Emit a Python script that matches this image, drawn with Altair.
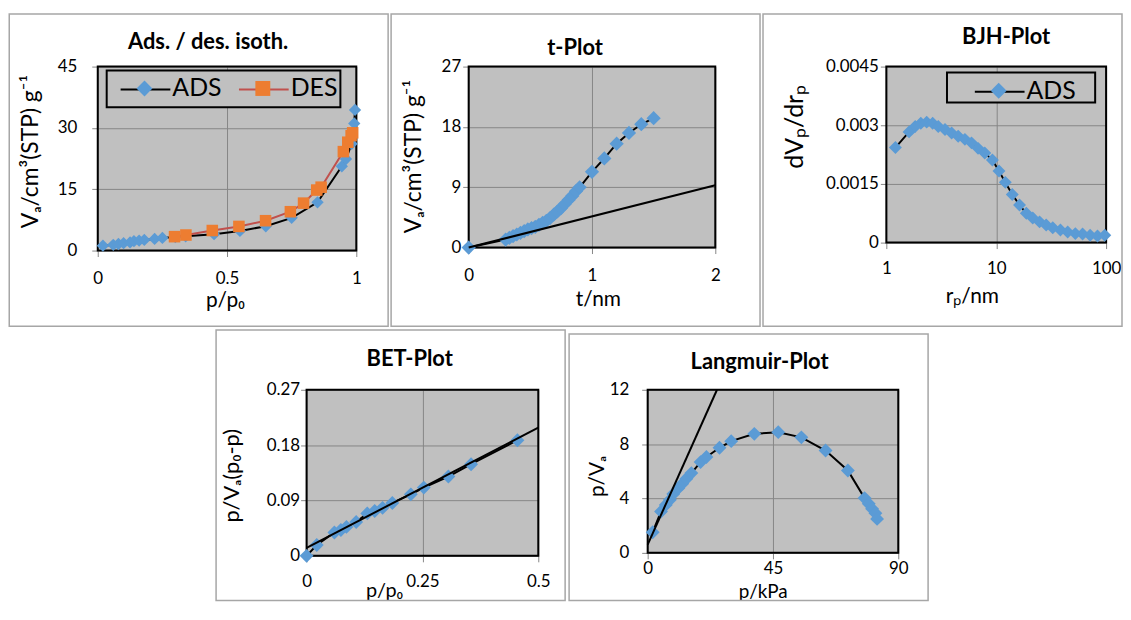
import altair as alt
import pandas as pd

# ---------------- data ----------------
iso_ads_p = [0.02, 0.06, 0.08, 0.10, 0.125, 0.14, 0.16, 0.18, 0.22, 0.25, 0.30, 0.34, 0.45, 0.55, 0.65, 0.75, 0.85, 0.944, 0.96, 0.982, 0.992, 0.995]
iso_ads_v = [1.2, 1.4, 1.6, 1.8, 2.0, 2.3, 2.45, 2.6, 2.85, 3.1, 3.3, 3.5, 4.0, 4.8, 5.95, 8.0, 11.8, 20.6, 22.4, 26.1, 31.1, 34.4]
iso_des_p = [0.297, 0.341, 0.443, 0.546, 0.649, 0.745, 0.796, 0.847, 0.864, 0.950, 0.967, 0.980, 0.986]
iso_des_v = [3.4, 3.8, 4.9, 5.9, 7.3, 9.5, 11.6, 14.8, 15.5, 24.2, 26.5, 28.1, 28.8]

t_t = [0.0, 0.30, 0.33, 0.36, 0.39, 0.42, 0.45, 0.48, 0.51, 0.54, 0.57, 0.60, 0.63, 0.66, 0.69, 0.72, 0.75, 0.78, 0.81, 0.84, 0.87, 0.90, 1.0, 1.1, 1.2, 1.3, 1.4, 1.5]
t_v = [0.0, 1.2, 1.45, 1.7, 1.95, 2.2, 2.45, 2.7, 2.9, 3.1, 3.4, 3.7, 4.0, 4.4, 4.9, 5.4, 5.9, 6.5, 7.1, 7.7, 8.4, 9.0, 11.3, 13.3, 15.5, 17.1, 18.4, 19.3]
t_fit_t = [0.0, 2.0]
t_fit_v = [0.0, 9.3]

bjh_r = [1.21, 1.61, 1.83, 2.06, 2.33, 2.64, 2.97, 3.42, 3.93, 4.51, 5.19, 5.96, 6.84, 7.87, 9.23, 10.6, 12.1, 14.0, 16.3, 18.8, 21.5, 24.8, 28.5, 32.7, 38.4, 44.7, 52.5, 61.1, 71.6, 83.5, 97.3]
bjh_dv = [0.00243, 0.00283, 0.00297, 0.00305, 0.00308, 0.00305, 0.00297, 0.00289, 0.00280, 0.00272, 0.00264, 0.00255, 0.00241, 0.00229, 0.00211, 0.00183, 0.00154, 0.00123, 0.00096, 0.00075, 0.00063, 0.00053, 0.00045, 0.00038, 0.00032, 0.00027, 0.00023, 0.00022, 0.00019, 0.00017, 0.00019]

bet_x = [0.0, 0.022, 0.060, 0.074, 0.086, 0.107, 0.131, 0.147, 0.164, 0.185, 0.225, 0.253, 0.306, 0.355, 0.455]
bet_y = [0.0, 0.0177, 0.038, 0.042, 0.047, 0.055, 0.069, 0.073, 0.078, 0.086, 0.100, 0.111, 0.129, 0.149, 0.188]
bet_fit_x = [0.0, 0.5]
bet_fit_y = [0.013, 0.2085]

lang_p = [1.8, 4.8, 6.5, 8.0, 9.2, 11.0, 12.4, 13.9, 15.7, 19.0, 21.1, 25.8, 30.0, 38.3, 46.9, 55.2, 63.9, 71.9, 77.9, 79.4, 80.6, 81.8, 82.4]
lang_y = [1.52, 3.04, 3.53, 3.9, 4.34, 4.76, 5.08, 5.45, 5.87, 6.68, 7.05, 7.73, 8.22, 8.76, 8.88, 8.50, 7.53, 6.06, 4.03, 3.61, 3.24, 2.92, 2.50]
lang_fit_p = [0.0, 24.9]
lang_fit_y = [0.6, 12.0]

series_names = ["ADS", "DES"]

# ---------------- style ----------------
FONT = "Lato"
BLUE = "#5b9bd5"
ORANGE = "#ed7d31"
RED = "#c0504d"
BG = "#c0c0c0"
GRID = "#868686"
FRAME = "#a6a6a6"
# legend-aligned marker paths (the M-1,0M1,0 part only widens the bounding box)
DIAMOND_L = "M-1,0M1,0M0,-0.32L0.32,0L0,0.32L-0.32,0Z"
SQUARE_L = "M-1,0M1,0M-0.3,-0.3L0.3,-0.3L0.3,0.3L-0.3,0.3Z"
DIAMOND = "M0,-0.32L0.32,0L0,0.32L-0.32,0Z"
one = pd.DataFrame({"k": [0]})


def rect(x1, x2, y1, y2, **kw):
    return alt.Chart(one).mark_rect(**kw).encode(
        x=alt.value(x1), x2=alt.value(x2), y=alt.value(y1), y2=alt.value(y2))


def xax(values, title, tx, ty, pad, tsize=21):
    return alt.Axis(values=values, title=title, titleX=tx, titleY=ty, titleAlign="center",
                    titleBaseline="alphabetic", titleFontSize=tsize, labelPadding=pad,
                    labelBaseline="alphabetic", labelExpr="'' + datum.value")


def yax(values, title, tx, ty, pad, tsize=22):
    return alt.Axis(values=values, title=title, titleX=tx, titleY=ty, titleAlign="center",
                    titleBaseline="alphabetic", titleAngle=270, titleFontSize=tsize,
                    labelPadding=pad, labelExpr="'' + datum.value")


def legends(lx, ly, col_pad_text, col_pad_line):
    common = dict(orient="none", legendX=lx, legendY=ly, direction="horizontal", title=None,
                  symbolSize=2500, labelFont=FONT, labelFontSize=25, labelColor="black",
                  labelOffset=3, padding=0)
    line_leg = alt.Legend(symbolType="stroke", symbolStrokeWidth=2, zindex=1,
                          labelExpr="''", columnPadding=col_pad_line, **common)
    mark_leg = alt.Legend(symbolStrokeWidth=0, zindex=2, columnPadding=col_pad_text, **common)
    return line_leg, mark_leg


def panel(w, h, frame, title, tdx, toff, layers):
    fx1, fx2, fy1, fy2 = frame
    parts = [
        rect(fx1, fx2, fy1, fy2, fill="transparent", stroke=FRAME, strokeWidth=1.5),
        rect(0, w, 0, h, fill="transparent", stroke="black", strokeWidth=2),
    ] + list(layers)
    return alt.layer(*parts).properties(
        width=w, height=h,
        title=alt.TitleParams(title, font=FONT, fontSize=22, fontWeight="bold", color="black",
                              anchor="middle", frame="group", dx=tdx, offset=toff,
                              baseline="alphabetic"))


# ---------- Panel 1: isotherm ----------
W1, H1 = 260, 185
x1 = alt.X("x:Q", scale=alt.Scale(domain=[0, 1], nice=False),
           axis=xax([0, 0.5, 1], "p/p₀", 128, 56, 27))
y1 = alt.Y("y:Q", scale=alt.Scale(domain=[0, 45], nice=False),
           axis=yax([0, 15, 30, 45], "Vₐ/cm³(STP) g⁻¹", -60.5, 85, 15, 23))
ads = pd.DataFrame({"x": iso_ads_p, "y": iso_ads_v, "series": series_names[0], "series_m": series_names[0]})
des = pd.DataFrame({"x": iso_des_p, "y": iso_des_v, "series": series_names[1], "series_m": series_names[1]})
lleg1, mleg1 = legends(22, -3, 16, 61)
stroke1 = alt.Stroke("series:N", scale=alt.Scale(range=["black", RED]), legend=lleg1)
fill1 = alt.Fill("series_m:N", scale=alt.Scale(range=[BLUE, ORANGE]), legend=mleg1)
shape1 = alt.Shape("series_m:N", scale=alt.Scale(range=[DIAMOND_L, SQUARE_L]), legend=mleg1)
p1_layers = []
for d in (ads, des):
    p1_layers.append(alt.Chart(d).mark_line(strokeWidth=2).encode(x=x1, y=y1, stroke=stroke1))
    p1_layers.append(alt.Chart(d).mark_point(filled=True, size=1500, opacity=1, strokeWidth=0)
                     .encode(x=x1, y=y1, fill=fill1, shape=shape1))
p1_layers.append(rect(9, 244, 4, 41, fill=BG, stroke="black", strokeWidth=2))
p1 = panel(W1, H1, (-89, 292, -53, 261), "Ads. / des. isoth.", -19, -58.5, p1_layers)

# ---------- Panel 2: t-plot ----------
W2, H2 = 248, 182
x2 = alt.X("x:Q", scale=alt.Scale(domain=[0, 2], nice=False),
           axis=xax([0, 1, 2], "t/nm", 130, 58, 27))
y2 = alt.Y("y:Q", scale=alt.Scale(domain=[0, 27], nice=False),
           axis=yax([0, 9, 18, 27], "Vₐ/cm³(STP) g⁻¹", -48.7, 90, 2, 23))
tdf = pd.DataFrame({"x": t_t, "y": t_v})
tfit = pd.DataFrame({"x": t_fit_t, "y": t_fit_v})
p2 = panel(W2, H2, (-78, 293, -53, 261), "t-Plot", -17, -64, [
    alt.Chart(tdf).mark_line(color="black", strokeWidth=2).encode(x=x2, y=y2),
    alt.Chart(tdf).mark_point(filled=True, size=2000, opacity=1, strokeWidth=0, shape=DIAMOND,
                              color=BLUE).encode(x=x2, y=y2),
    alt.Chart(tfit).mark_line(color="black", strokeWidth=2).encode(x=x2, y=y2),
])

# ---------- Panel 3: BJH ----------
W3, H3 = 221, 177
x3 = alt.X("x:Q", scale=alt.Scale(type="log", domain=[1, 100], nice=False),
           axis=xax([1, 10, 100], "rₚ/nm", 86, 60, 25))
y3 = alt.Y("y:Q", scale=alt.Scale(domain=[0, 0.0045], nice=False),
           axis=yax([0, 0.0015, 0.003, 0.0045], "dVₚ/drₚ", -84.3, 60, 2, 25))
bjh = pd.DataFrame({"x": bjh_r, "y": bjh_dv, "series": series_names[0], "series_m": series_names[0]})
lleg3, mleg3 = legends(88, -0.7, 16, 61)
p3 = panel(W3, H3, (-124, 237, -53, 261), "BJH-Plot", 10, -53.5, [
    alt.Chart(bjh).mark_line(strokeWidth=2).encode(
        x=x3, y=y3, stroke=alt.Stroke("series:N", scale=alt.Scale(range=["black"]), legend=lleg3)),
    alt.Chart(bjh).mark_point(filled=True, size=1650, opacity=1, strokeWidth=0).encode(
        x=x3, y=y3,
        fill=alt.Fill("series_m:N", scale=alt.Scale(range=[BLUE]), legend=mleg3),
        shape=alt.Shape("series_m:N", scale=alt.Scale(range=[DIAMOND]), legend=mleg3)),
    rect(61, 210, 6, 36, fill=BG, stroke="black", strokeWidth=2),
])

# ---------- Panel 4: BET ----------
W4, H4 = 233, 167
x4 = alt.X("x:Q", scale=alt.Scale(domain=[0, 0.5], nice=False),
           axis=xax([0, 0.25, 0.5], "p/p₀", 78, 41, 25, 20))
y4 = alt.Y("y:Q", scale=alt.Scale(domain=[0, 0.27], nice=False),
           axis=yax([0, 0.09, 0.18, 0.27], "p/Vₐ(p₀-p)", -68, 86, 1, 22))
betdf = pd.DataFrame({"x": bet_x, "y": bet_y})
betfit = pd.DataFrame({"x": bet_fit_x, "y": bet_fit_y})
p4 = panel(W4, H4, (-91, 260, -60, 212), "BET-Plot", -12.8, -58.5, [
    alt.Chart(betdf).mark_line(color="black", strokeWidth=2).encode(x=x4, y=y4),
    alt.Chart(betdf).mark_point(filled=True, size=1900, opacity=1, strokeWidth=0, shape=DIAMOND,
                                color=BLUE).encode(x=x4, y=y4),
    alt.Chart(betfit).mark_line(color="black", strokeWidth=2).encode(x=x4, y=y4),
])

# ---------- Panel 5: Langmuir ----------
W5, H5 = 252, 164
x5 = alt.X("x:Q", scale=alt.Scale(domain=[0, 90], nice=False),
           axis=xax([0, 45, 90], "p/kPa", 115.7, 45, 15, 19))
y5 = alt.Y("y:Q", scale=alt.Scale(domain=[0, 12], nice=False),
           axis=yax([0, 4, 8, 12], "p/Vₐ", -44.3, 86.7, 13, 21))
ldf = pd.DataFrame({"x": lang_p, "y": lang_y})
lfit = pd.DataFrame({"x": lang_fit_p, "y": lang_fit_y})
p5 = panel(W5, H5, (-79, 282, -56, 212), "Langmuir-Plot", -13.5, -57.5, [
    alt.Chart(ldf).mark_line(color="black", strokeWidth=2).encode(x=x5, y=y5),
    alt.Chart(ldf).mark_point(filled=True, size=1900, opacity=1, strokeWidth=0, shape=DIAMOND,
                              color=BLUE).encode(x=x5, y=y5),
    alt.Chart(lfit).mark_line(color="black", strokeWidth=2).encode(x=x5, y=y5),
])

# invisible spacer that pushes the lower row to the right
spacer = rect(0, 1, 0, 1, opacity=0).properties(
    width=116, height=1, view=alt.ViewBackground(fill="transparent", strokeWidth=0))

ind = dict(x="independent", y="independent", stroke="independent", fill="independent", shape="independent")
row1 = alt.hconcat(p1, p2, p3, spacing=1).resolve_scale(**ind)
row2 = alt.hconcat(spacer, p4, p5, spacing=2).resolve_scale(**ind)
chart = alt.vconcat(row1, row2, spacing=2).resolve_scale(**ind).properties(
    padding={"left": 0.25, "top": 3.25, "right": 0, "bottom": 0},
    background="white",
).configure_view(fill=BG, stroke="transparent", strokeWidth=0).configure_axis(
    labelFont=FONT, labelFontSize=17, labelColor="black",
    titleFont=FONT, titleFontSize=21, titleFontWeight="normal", titleColor="black",
    tickColor=GRID, tickSize=6, tickWidth=1, domain=False,
    gridColor=GRID, gridWidth=1, labelFlush=False, labelOverlap=False,
)

chart.save("out.html", embed_options={"renderer": "svg", "actions": False})
